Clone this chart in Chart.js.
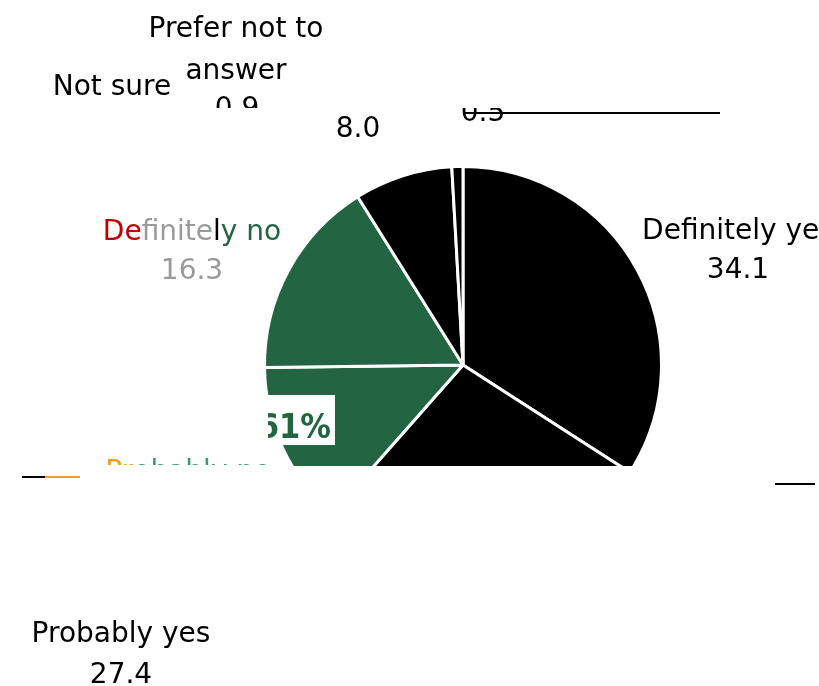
<!DOCTYPE html>
<html>
<head>
<meta charset="utf-8">
<script src="https://cdn.jsdelivr.net/npm/chart.js@4/dist/chart.umd.min.js"></script>
<style>
  body { margin: 0; background: #fff; }
  #wrap { width: 819px; height: 686px; }
</style>
</head>
<body>
<div id="wrap"><canvas id="grafico-pizza" width="819" height="686"></canvas></div>
<script>
// answers, clockwise from 12 o'clock
const categories = ["Definitely yes", "Probably yes", "Probably no", "Definitely no", "Not sure", "Prefer not to answer"];
const shares = [34.1, 27.4, 13.3, 16.3, 8.0, 0.9];
const stray = "0.5";
const topShare = "61%";

const sliceColours = ["#000000", "#000000", "#236442", "#236442", "#000000", "#000000"];
const FONT = "DejaVu Sans, Verdana, sans-serif";

// where each label sits (centre x, baseline y) and how it is coloured
const labelSpots = [
    { name: [[0, 14, "#000"]], value: "#000", x: 738, y: 239, vy: 278 },
    { name: [[0, 12, "#000"]], value: "#000", x: 121, y: 642, vy: 683 },
    { name: [[0, 2, "#f0a020"], [2, 11, "#3a9a6a"]], x: 188, y: 480, clipBottom: 465 },
    { name: [[0, 2, "#c00000"], [2, 8, "#9a9a9a"], [8, 9, "#000"], [9, 13, "#236442"]], value: "#9a9a9a", x: 192, y: 240, vy: 279 },
    { name: [[0, 8, "#000"]], value: "#000", x: 112, y: 95, vx: 358, vy: 137 },
    { name: null, value: "#000", x: 236, y: 37, vx: 237, vy: 117, vClipBottom: 108 }
];

function drawRuns(ctx, text, runs, cx, y) {
    const total = ctx.measureText(text).width;
    let x = cx - total / 2;
    ctx.textAlign = "left";
    for (const [a, b, col] of runs) {
        const part = text.slice(a, b);
        ctx.fillStyle = col;
        ctx.fillText(part, x, y);
        x += ctx.measureText(part).width;
    }
}

const cortePizza = {
    id: "cortePizza",
    beforeDatasetsDraw(chart) {
        const ctx = chart.ctx;
        ctx.save();
        ctx.beginPath();
        ctx.rect(0, 0, chart.width, 466);
        ctx.clip();
    },
    afterDatasetsDraw(chart) {
        chart.ctx.restore();
    }
};

const rotulos = {
    id: "rotulos",
    afterDraw(chart) {
        const ctx = chart.ctx;
        ctx.save();
        ctx.font = "28px " + FONT;
        ctx.textBaseline = "alphabetic";

        categories.forEach((cat, i) => {
            const s = labelSpots[i];
            ctx.save();
            if (s.clipBottom) {
                ctx.beginPath();
                ctx.rect(0, 0, chart.width, s.clipBottom);
                ctx.clip();
            }
            if (s.name) {
                drawRuns(ctx, cat, s.name, s.x, s.y);
            } else {
                // long label broken in two lines
                ctx.textAlign = "center";
                ctx.fillStyle = "#000";
                ctx.fillText("Prefer not to", s.x, s.y);
                ctx.fillText("answer", s.x, 79);
            }
            ctx.restore();
            if (s.vy) {
                ctx.save();
                if (s.vClipBottom) {
                    ctx.beginPath();
                    ctx.rect(0, 0, chart.width, s.vClipBottom);
                    ctx.clip();
                }
                ctx.textAlign = "center";
                ctx.fillStyle = s.value;
                ctx.fillText(shares[i].toFixed(1), s.vx || s.x, s.vy);
                ctx.restore();
            }
        });

        // stray value near the top, only its lower half shows
        ctx.save();
        ctx.beginPath();
        ctx.rect(0, 108, chart.width, 40);
        ctx.clip();
        ctx.textAlign = "center";
        ctx.fillStyle = "#000";
        ctx.fillText(stray, 483, 121);
        ctx.restore();

        // leader lines
        ctx.lineWidth = 2;
        ctx.strokeStyle = "#000";
        ctx.beginPath(); ctx.moveTo(465, 113); ctx.lineTo(720, 113); ctx.stroke();
        ctx.beginPath(); ctx.moveTo(22, 477); ctx.lineTo(45, 477); ctx.stroke();
        ctx.beginPath(); ctx.moveTo(775, 484); ctx.lineTo(815, 484); ctx.stroke();
        ctx.strokeStyle = "#f0a020";
        ctx.beginPath(); ctx.moveTo(45, 477); ctx.lineTo(80, 477); ctx.stroke();

        // share box
        ctx.fillStyle = "#fff";
        ctx.fillRect(268, 395, 67, 50);
        ctx.beginPath();
        ctx.rect(268, 395, 67, 50);
        ctx.clip();
        ctx.font = "bold 34px DejaVu Sans Condensed, " + FONT;
        ctx.fillStyle = "#236442";
        ctx.textAlign = "right";
        ctx.fillText(topShare, 331, 438);
        ctx.restore();
    }
};

new Chart(document.getElementById("grafico-pizza"), {
    type: "pie",
    data: {
        labels: categories,
        datasets: [{
            data: shares,
            backgroundColor: sliceColours,
            borderColor: "#ffffff",
            borderWidth: 3
        }]
    },
    options: {
        responsive: false,
        animation: false,
        layout: { padding: { left: 263, right: 156, top: 165, bottom: 121 } },
        plugins: {
            legend: { display: false },
            tooltip: { enabled: false }
        }
    },
    plugins: [cortePizza, rotulos]
});
</script>
</body>
</html>
